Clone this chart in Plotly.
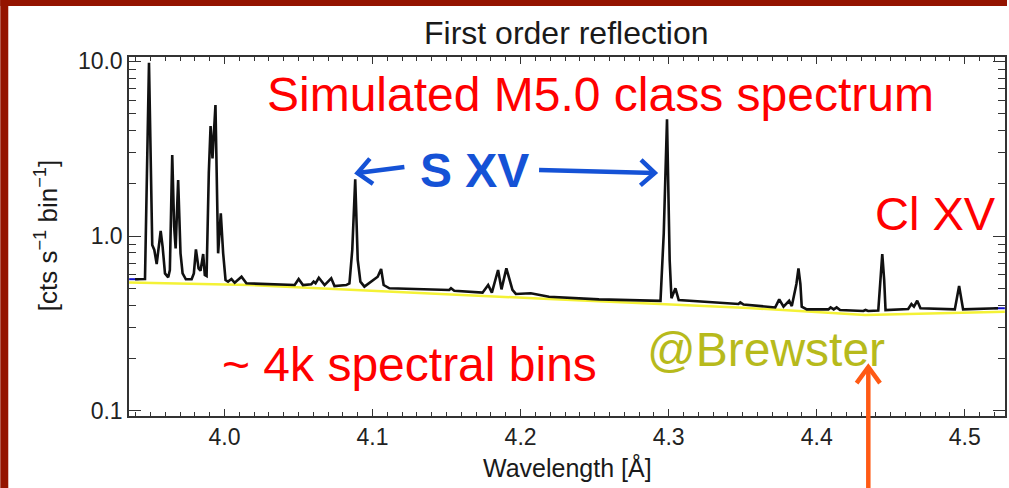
import math
import plotly.graph_objects as go

# ---------------- data ----------------
wavelength = [3.9396, 3.9463, 3.9490, 3.9512, 3.9526, 3.9542, 3.9569, 3.9582, 3.9598, 3.9620,
              3.9631, 3.9647, 3.9660, 3.9670, 3.9687, 3.9703, 3.9717, 3.9739, 3.9778, 3.9793,
              3.9807, 3.9825, 3.9838, 3.9856, 3.9867, 3.9879, 3.9894, 3.9906, 3.9919, 3.9939,
              3.9957, 3.9975, 3.9991, 4.0007, 4.0024, 4.0047, 4.0069, 4.0115, 4.0148, 4.0474,
              4.0501, 4.0530, 4.0586, 4.0602, 4.0615, 4.0637, 4.0676, 4.0721, 4.0743, 4.0822,
              4.0844, 4.0863, 4.0883, 4.0900, 4.0918, 4.0945, 4.1035, 4.1058, 4.1075, 4.1114,
              4.1518, 4.1530, 4.1552, 4.1743, 4.1781, 4.1806, 4.1848, 4.1871, 4.1904, 4.1945,
              4.1968, 4.2069, 4.2192, 4.2529, 4.2945, 4.2967, 4.2989, 4.3007, 4.3019, 4.3046,
              4.3068, 4.3472, 4.3484, 4.3506, 4.3720, 4.3747, 4.3776, 4.3814, 4.3832, 4.3863,
              4.3877, 4.3890, 4.3899, 4.3933, 4.4079, 4.4094, 4.4115, 4.4135, 4.4158, 4.4315,
              4.4330, 4.4348, 4.4416, 4.4429, 4.4443, 4.4456, 4.4465, 4.4618, 4.4640, 4.4657,
              4.4679, 4.4701, 4.4933, 4.4962, 4.4989, 4.5225]
counts = [0.565, 0.567, 9.82, 0.888, 0.832, 0.691, 1.07, 0.869, 0.611, 0.580,
          0.639, 2.91, 1.13, 0.850, 2.09, 0.796, 0.611, 0.565, 0.565, 0.611,
          0.839, 0.653, 0.633, 0.788, 0.598, 0.590, 2.29, 4.26, 2.78, 5.62,
          0.796, 1.35, 0.796, 0.560, 0.548, 0.567, 0.540, 0.585, 0.536, 0.524,
          0.567, 0.524, 0.529, 0.548, 0.536, 0.577, 0.524, 0.573, 0.517, 0.524,
          0.536, 0.832, 2.11, 0.729, 0.548, 0.513, 0.585, 0.647, 0.524, 0.502,
          0.491, 0.502, 0.486, 0.474, 0.524, 0.474, 0.639, 0.495, 0.653, 0.491,
          0.466, 0.470, 0.449, 0.434, 0.425, 1.036, 4.66, 0.729, 0.440, 0.502,
          0.430, 0.408, 0.417, 0.405, 0.390, 0.434, 0.394, 0.426, 0.397, 0.531,
          0.653, 0.531, 0.394, 0.380, 0.380, 0.390, 0.380, 0.390, 0.377, 0.372,
          0.377, 0.372, 0.374, 0.560, 0.788, 0.560, 0.377, 0.382, 0.408, 0.394,
          0.426, 0.386, 0.380, 0.517, 0.380, 0.386]

background_wl = [3.9356, 4.0170, 4.2192, 4.3539, 4.4328, 4.5271]
background_val = [0.542, 0.524, 0.436, 0.387, 0.353, 0.369]

model_wl = [3.9356, 3.9420, None, 4.5200, 4.5271]
model_val = [0.566, 0.566, None, 0.386, 0.386]

x_tickvals = [4.0, 4.1, 4.2, 4.3, 4.4, 4.5]
x_ticktext = ["4.0", "4.1", "4.2", "4.3", "4.4", "4.5"]
y_tickvals = [0.1, 1.0, 10.0]
y_ticktext = ["0.1", "1.0", "10.0"]
y_minor = [0.2, 0.3, 0.4, 0.5, 0.6, 0.7, 0.8, 0.9, 2, 3, 4, 5, 6, 7, 8, 9]

# ---------------- layout geometry (pixels) ----------------
W, H = 1009, 488
L, R, T, B = 129, 1007, 57, 416
FONT = "Liberation Sans, Arial, Helvetica, sans-serif"


def px(x):
    return (x - L) / (R - L)


def py(y):
    return (B - y) / (B - T)


fig = go.Figure()
fig.add_trace(go.Scatter(x=background_wl, y=background_val, mode="lines",
                         line=dict(color="#f4f236", width=2.5), hoverinfo="skip"))
fig.add_trace(go.Scatter(x=model_wl, y=model_val, mode="lines",
                         line=dict(color="#1010c8", width=2), hoverinfo="skip"))
fig.add_trace(go.Scatter(x=wavelength, y=counts, mode="lines",
                         line=dict(color="#111111", width=2.6)))

axis_common = dict(showline=True, linecolor="#333333", linewidth=1.5, mirror="allticks",
                   ticks="inside", tickcolor="#333333", showgrid=False, zeroline=False,
                   tickfont=dict(family=FONT, size=23, color="#222222"))

fig.update_xaxes(range=[3.9355, 4.5272], tickmode="array", tickvals=x_tickvals,
                 ticktext=x_ticktext, ticklen=7, tickwidth=1.3,
                 minor=dict(dtick=0.01, tick0=4.0, ticks="inside", ticklen=4,
                            tickcolor="#333333", tickwidth=1.1, showgrid=False),
                 **axis_common)
fig.update_yaxes(type="log", range=[-1.0303, 1.0246], tickmode="array",
                 tickvals=y_tickvals, ticktext=y_ticktext, ticklen=12, tickwidth=1.3,
                 minor=dict(tickmode="array", tickvals=y_minor, ticks="inside", ticklen=7,
                            tickcolor="#333333", tickwidth=1.1, showgrid=False),
                 **axis_common)

annotations = [
    dict(text="First order reflection", x=px(567), y=py(33), size=32, color="#1a1a1a"),
    dict(text="Wavelength [Å]", x=px(568), y=py(467), size=25, color="#1a1a1a"),
    dict(text="Simulated M5.0 class spectrum", x=px(602), y=py(95), size=48, color="#ff0000"),
    dict(text="<b>S XV</b>", x=px(475), y=py(170), size=48, color="#1552d6"),
    dict(text="Cl XV", x=px(937), y=py(214), size=47, color="#ff0000"),
    dict(text="~ 4k spectral bins", x=px(410), y=py(364), size=48, color="#ff0000"),
    dict(text="@Brewster", x=px(767), y=py(349), size=48, color="#b7ba1c"),
]
for a in annotations:
    fig.add_annotation(text=a["text"], x=a["x"], y=a["y"], xref="paper", yref="paper",
                       xanchor="center", yanchor="middle", showarrow=False,
                       font=dict(family=FONT, size=a["size"], color=a["color"]))

fig.add_annotation(text="[cts s<sup>−1</sup> bin<sup>−1</sup>]", x=px(46), y=py(236),
                   xref="paper", yref="paper", xanchor="center", yanchor="middle",
                   textangle=-90, showarrow=False,
                   font=dict(family=FONT, size=26, color="#1a1a1a"))


# arrows drawn as shapes (shaft + open chevron head), positions in pixels
def add_arrow(tip, tail, color, width, head_len=19, head_ang=42):
    tx, ty = tip
    sx, sy = tail
    fig.add_shape(type="line", xref="paper", yref="paper",
                  x0=px(sx), y0=py(sy), x1=px(tx), y1=py(ty),
                  line=dict(color=color, width=width), layer="above")
    ang = math.atan2(sy - ty, sx - tx)
    pts = []
    for s in (1, -1):
        a = ang + s * math.radians(head_ang)
        pts.append((tx + head_len * math.cos(a), ty + head_len * math.sin(a)))
    path = "M {:.5f},{:.5f} L {:.5f},{:.5f} L {:.5f},{:.5f}".format(
        px(pts[0][0]), py(pts[0][1]), px(tx), py(ty), px(pts[1][0]), py(pts[1][1]))
    fig.add_shape(type="path", xref="paper", yref="paper", path=path,
                  line=dict(color=color, width=width), layer="above")


add_arrow((358, 173), (405, 167), "#1552d6", 4.5)
add_arrow((656, 173), (540, 170), "#1552d6", 4.5)
add_arrow((870, 367), (870, 500), "#ff5a14", 4.5, head_len=20, head_ang=36)

# dark red slide border (left and top)
border = "#941400"
fig.add_shape(type="rect", xref="paper", yref="paper", x0=px(0), x1=px(8), y0=py(W), y1=py(0),
              fillcolor=border, line=dict(width=0), layer="above")
fig.add_shape(type="rect", xref="paper", yref="paper", x0=px(0), x1=px(W), y0=py(6), y1=py(0),
              fillcolor=border, line=dict(width=0), layer="above")

fig.update_layout(width=W, height=H, margin=dict(l=L, r=W - R, t=T, b=H - B),
                  paper_bgcolor="white", plot_bgcolor="white", showlegend=False,
                  font=dict(family=FONT))

fig.write_html("out.html")
